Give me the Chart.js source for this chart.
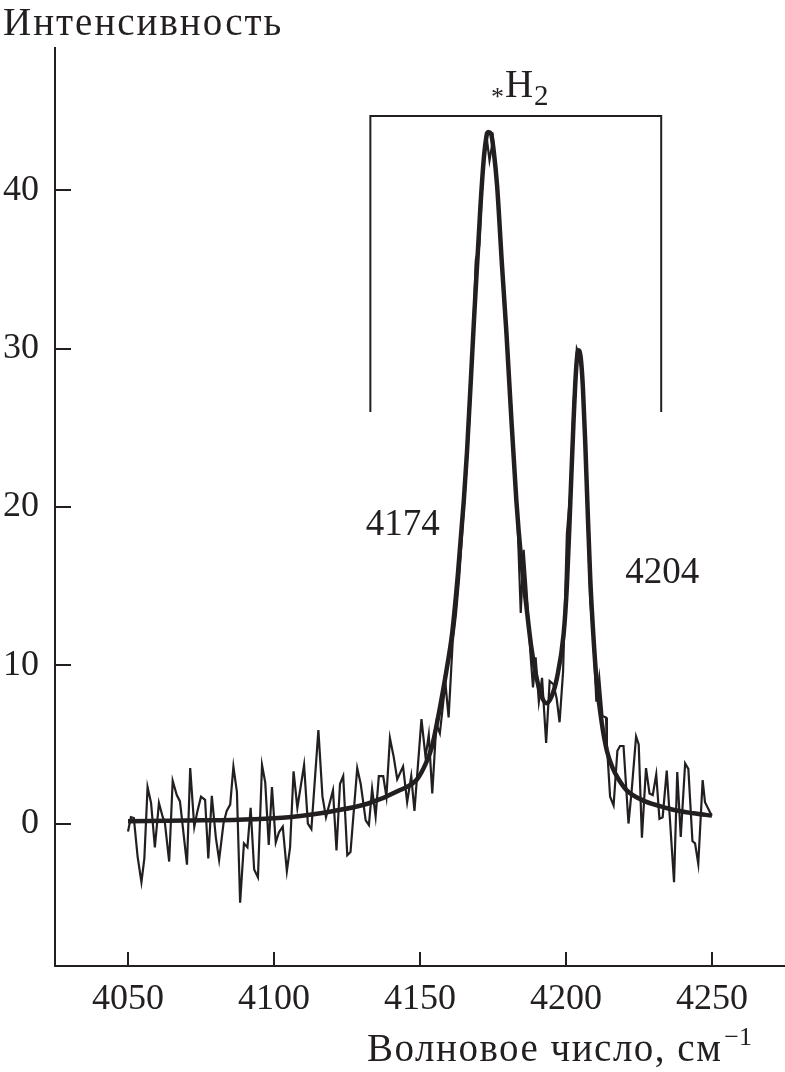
<!DOCTYPE html>
<html><head><meta charset="utf-8">
<script src="https://cdn.jsdelivr.net/npm/chart.js@4.4.1/dist/chart.umd.min.js"></script>
<style>html,body{margin:0;padding:0;background:#fff}#wrap{position:relative;width:785px;height:1072px}</style>
</head><body><div id="wrap"><canvas id="c" width="785" height="1072"></canvas></div>
<script>
// ---- data ----
const noisyX = [4050.0,4051.0,4052.0,4053.3,4054.6,4055.6,4056.7,4057.9,4059.2,4060.6,4061.9,4062.6,4064.1,4065.3,4066.7,4067.8,4070.2,4071.3,4072.7,4073.8,4075.0,4076.4,4077.5,4078.7,4080.1,4081.2,4082.7,4083.8,4085.0,4086.1,4087.3,4088.4,4089.7,4090.9,4092.0,4093.2,4094.5,4095.9,4097.0,4098.2,4099.3,4100.6,4101.7,4103.0,4104.4,4105.5,4106.7,4108.0,4110.3,4111.6,4112.8,4115.2,4116.6,4117.8,4120.2,4121.4,4122.6,4123.7,4125.1,4126.2,4128.5,4129.7,4131.4,4132.5,4133.6,4134.8,4135.9,4137.4,4138.5,4139.7,4141.0,4142.2,4144.2,4145.6,4147.0,4148.1,4150.5,4151.9,4153.0,4154.2,4155.6,4156.8,4158.7,4159.8,4161.2,4162.3,4163.4,4164.6,4165.7,4166.9,4168.0,4169.1,4170.3,4171.4,4172.6,4173.8,4175.0,4176.3,4177.5,4178.7,4179.8,4181.0,4182.2,4183.3,4184.5,4185.5,4186.4,4187.8,4188.7,4189.6,4190.7,4191.8,4193.2,4194.4,4195.7,4196.8,4197.8,4199.0,4200.3,4201.5,4202.6,4203.7,4204.9,4206.0,4207.2,4208.3,4209.4,4210.4,4211.4,4212.5,4213.7,4214.0,4215.1,4216.3,4217.6,4218.5,4219.7,4221.4,4222.5,4224.0,4224.9,4226.0,4227.4,4228.6,4229.7,4230.9,4232.0,4233.1,4234.5,4237.0,4238.1,4239.3,4240.8,4241.9,4243.3,4244.2,4245.3,4246.8,4247.6,4249.9];
const noisyY = [-0.5,0.4,0.35,-2.1,-3.7,-2.2,2.3,1.3,-1.5,1.3,0.4,0.1,-2.4,2.7,1.8,1.4,-2.6,3.5,-0.2,0.8,1.7,1.5,-2.2,1.75,-0.9,-2.3,0.0,0.8,1.2,3.6,2.0,-5.0,-1.25,-1.5,1.0,-2.9,-3.4,3.7,2.6,-1.35,2.3,-1.2,-0.55,-0.2,-3.0,-1.5,3.3,1.0,3.7,0.0,-0.35,5.9,1.7,0.4,2.1,-1.7,2.5,3.0,-2.0,-1.8,3.5,2.5,0.2,-0.1,2.2,0.45,3.0,3.0,1.7,5.4,4.2,2.8,3.6,1.35,3.0,0.8,6.6,4.2,5.6,1.9,6.3,5.7,8.9,6.7,11.5,13.2,15.5,18.8,21.8,25.5,30.0,35.6,36.5,40.7,43.7,41.9,43.2,40.6,37.3,33.0,30.0,27.0,22.7,19.6,13.3,17.3,15.0,10.8,8.6,10.5,7.7,9.2,5.1,9.0,8.8,7.9,6.4,9.6,18.3,21.0,26.5,30.0,29.4,27.2,20.4,14.1,11.6,7.7,9.2,6.8,6.7,5.0,1.7,1.15,4.6,4.9,4.9,0.0,2.1,5.5,5.0,-0.9,3.5,1.9,1.8,3.1,0.3,0.4,3.35,-3.7,3.25,-0.85,3.8,3.45,-1.1,-1.25,-2.55,2.75,1.35,0.5];
const fitX = [4050,4070,4086,4100,4105,4120,4132,4143,4149,4152,4154,4157,4159,4161,4163,4165,4166.1,4168.4,4170.7,4172,4173.3,4174.3,4175.3,4176.4,4178.1,4179.6,4180.9,4183,4184.6,4186.4,4188,4189.5,4191.5,4193.3,4195,4196.9,4199.2,4200.3,4201.5,4202.6,4203.5,4204.2,4205,4205.8,4206.6,4207.3,4208.3,4209.4,4210.5,4212.3,4214,4216,4218,4220.8,4226.5,4232.2,4237.9,4243.6,4250];
const fitY = [0.15,0.2,0.23,0.33,0.4,0.78,1.25,2.1,2.8,3.8,4.8,7.5,9.6,12.0,15.8,20.4,23.5,31.5,39.0,42.3,43.7,43.6,42.4,40.3,35.2,31.0,26.8,20.4,16.8,13.8,11.3,9.6,8.1,7.6,8.0,9.2,12.0,15.0,20.4,25.5,28.8,29.9,29.5,27.5,24.0,20.4,15.5,11.8,9.0,6.3,4.6,3.5,2.8,2.1,1.45,1.1,0.82,0.65,0.5];
const xTicks = [4050, 4100, 4150, 4200, 4250];
const yTicks = [0, 10, 20, 30, 40];
const yTitle = 'Интенсивность';
const xTitle = 'Волновое число, см';
const xTitleSup = '−1';
const groupLabel = ['*', 'H', '2'];
const peakLabels = ['4174', '4204'];

// ---- annotation placement (data coordinates) ----
const bracket = {x0: 4133, x1: 4232.6, yTop: 44.7, yBottom: 26.0};
const peakLabelPos = [{x: 4131.4, y: 18.2}, {x: 4220.3, y: 15.2}];

const INK = '#231f20';
const FONT = '"Liberation Serif", "Times New Roman", serif';

const toPts = (xs, ys) => xs.map((x, i) => ({x, y: ys[i]}));

const overlay = {
  id: 'overlay',
  afterDraw(chart) {
    const {ctx, scales: {x, y}, chartArea: a} = chart;
    ctx.save();
    ctx.strokeStyle = INK; ctx.fillStyle = INK; ctx.lineWidth = 2; ctx.lineCap = 'butt';
    // inward tick marks
    yTicks.forEach(v => {
      const py = Math.round(y.getPixelForValue(v));
      ctx.fillRect(a.left, py - 1, 16, 2);
    });
    xTicks.forEach(v => {
      const px = Math.round(x.getPixelForValue(v));
      ctx.fillRect(px - 1, a.bottom - 14, 2, 14);
    });
    // bracket
    const bx0 = x.getPixelForValue(bracket.x0), bx1 = x.getPixelForValue(bracket.x1);
    const byT = y.getPixelForValue(bracket.yTop), byB = y.getPixelForValue(bracket.yBottom);
    ctx.beginPath();
    ctx.moveTo(bx0, byB); ctx.lineTo(bx0, byT); ctx.lineTo(bx1, byT); ctx.lineTo(bx1, byB);
    ctx.stroke();
    // *H2 label
    ctx.textBaseline = 'alphabetic';
    const cx = (bx0 + bx1) / 2 + 4;
    const base = byT - 19;
    ctx.font = '26px ' + FONT; const wA = ctx.measureText(groupLabel[0]).width;
    ctx.font = '39px ' + FONT; const wH = ctx.measureText(groupLabel[1]).width;
    ctx.font = '29px ' + FONT; const w2 = ctx.measureText(groupLabel[2]).width;
    let sx = cx - (wA + wH + w2 + 2) / 2;
    ctx.font = '26px ' + FONT; ctx.fillText(groupLabel[0], sx, base + 8); sx += wA + 1;
    ctx.font = '39px ' + FONT; ctx.fillText(groupLabel[1], sx, base); sx += wH + 1;
    ctx.font = '29px ' + FONT; ctx.fillText(groupLabel[2], sx, base + 8);
    // peak labels
    ctx.font = '37px ' + FONT; ctx.textAlign = 'left';
    peakLabels.forEach((t, i) => ctx.fillText(t, x.getPixelForValue(peakLabelPos[i].x), y.getPixelForValue(peakLabelPos[i].y)));
    // axis titles
    ctx.font = '39px ' + FONT;
    ctx.letterSpacing = '2px';
    ctx.fillText(yTitle, 3, 35);
    ctx.letterSpacing = '0px';
    ctx.font = '26px ' + FONT; const wSup = ctx.measureText(xTitleSup).width;
    const right = 752;
    ctx.fillText(xTitleSup, right - wSup, 1045);
    ctx.font = '39px ' + FONT; ctx.textAlign = 'right';
    ctx.letterSpacing = '1.5px';
    ctx.fillText(xTitle, right - wSup - 2, 1061);
    ctx.restore();
  }
};

new Chart(document.getElementById('c'), {
  type: 'scatter',
  data: {
    datasets: [
      {data: toPts(noisyX, noisyY), showLine: true, borderColor: INK, borderWidth: 2.2, pointRadius: 0, tension: 0, order: 2},
      {data: toPts(fitX, fitY), showLine: true, borderColor: INK, borderWidth: 4.5, pointRadius: 0, cubicInterpolationMode: 'monotone', order: 1}
    ]
  },
  options: {
    responsive: false, animation: false, devicePixelRatio: 1,
    layout: {padding: {top: 48, right: 0, left: 0, bottom: 0}},
    plugins: {legend: {display: false}, tooltip: {enabled: false}},
    scales: {
      x: {
        type: 'linear', min: 4025, max: 4275,
        afterBuildTicks: s => { s.ticks = xTicks.map(v => ({value: v})); },
        afterFit: s => { s.height = 106; },
        grid: {display: false, drawTicks: false},
        border: {display: true, color: INK, width: 2},
        ticks: {color: INK, font: {family: FONT, size: 36}, padding: 12, maxRotation: 0, autoSkip: false, callback: v => String(v)}
      },
      y: {
        type: 'linear', min: -9, max: 49,
        afterBuildTicks: s => { s.ticks = yTicks.map(v => ({value: v})); },
        afterFit: s => { s.width = 55; },
        grid: {display: false, drawTicks: false},
        border: {display: true, color: INK, width: 2},
        ticks: {color: INK, font: {family: FONT, size: 36}, padding: 16, autoSkip: false, callback: v => String(v)}
      }
    }
  },
  plugins: [overlay]
});
</script></body></html>
